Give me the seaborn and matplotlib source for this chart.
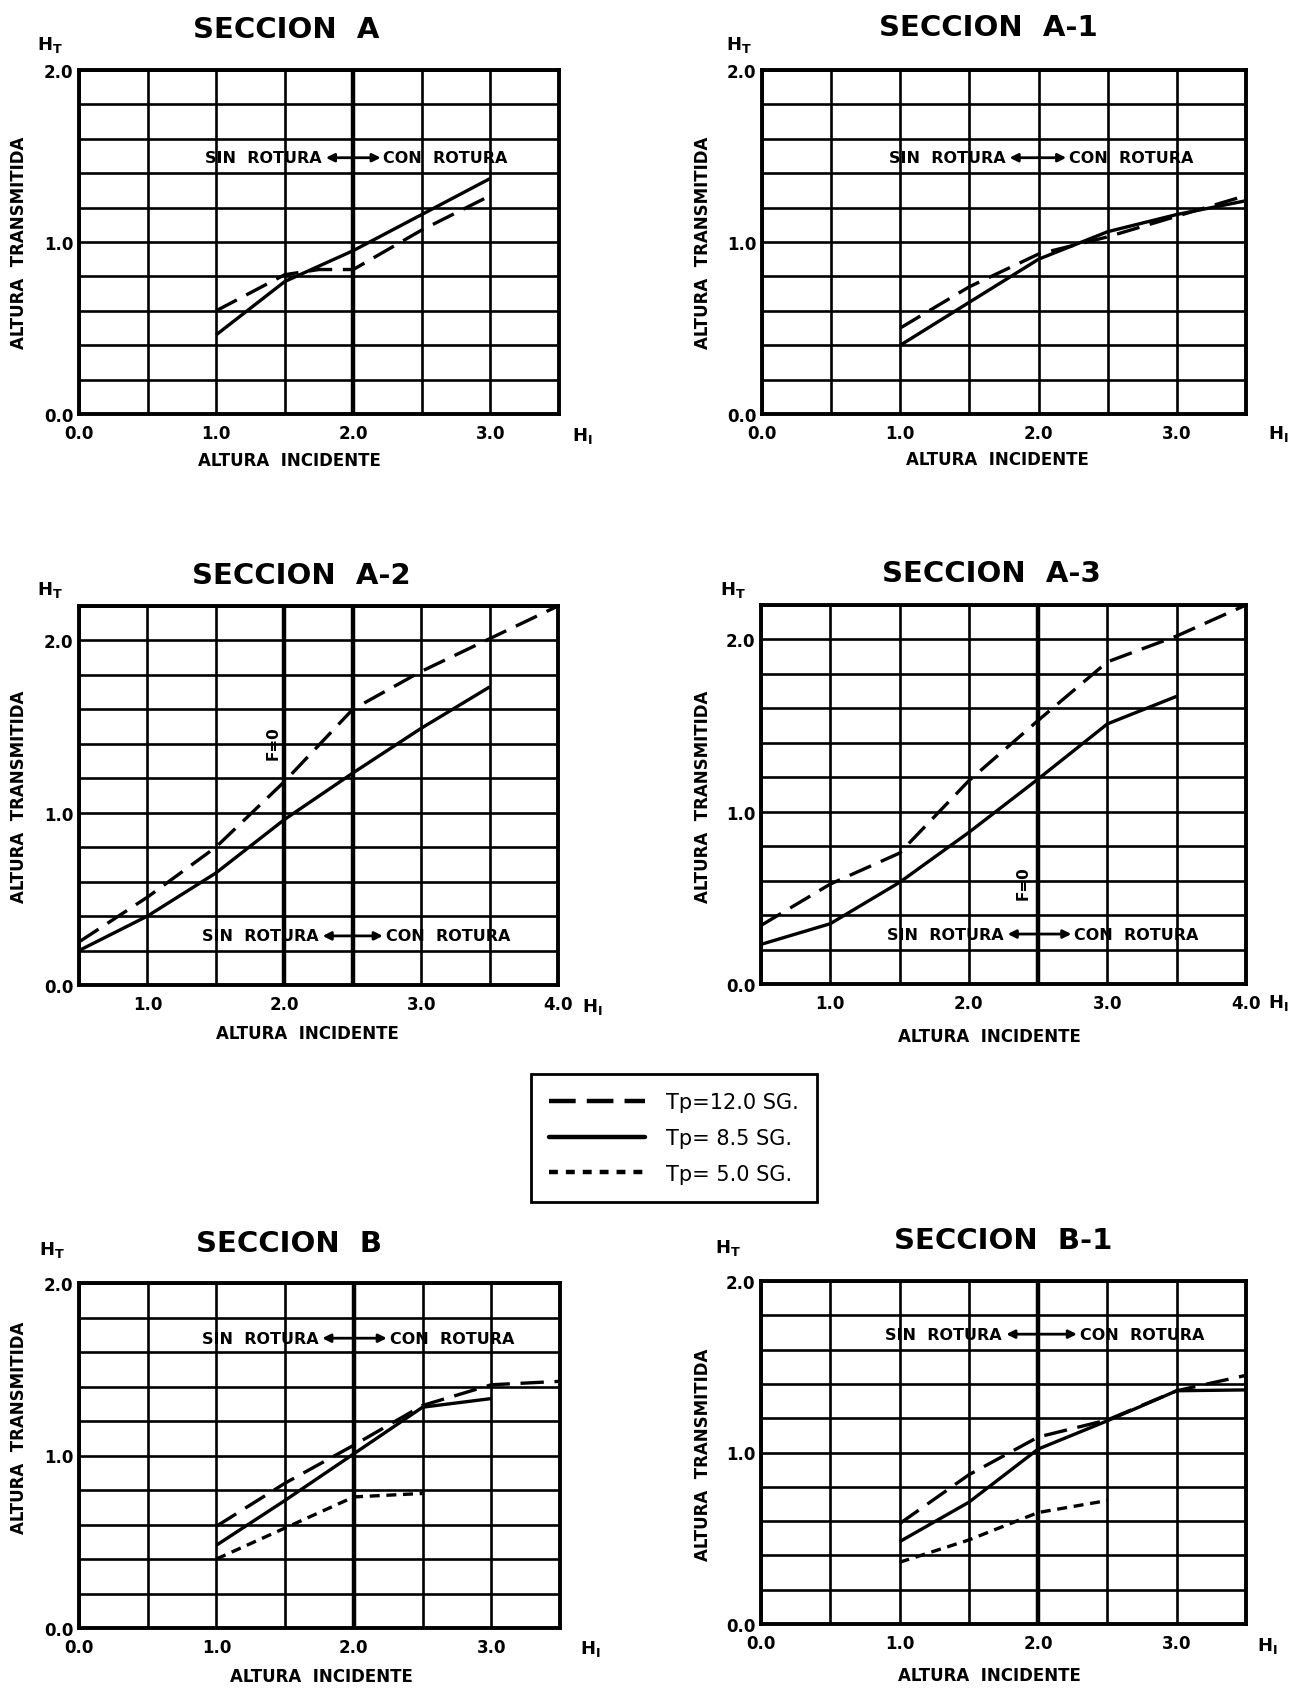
import matplotlib
matplotlib.use("Agg")
import matplotlib.pyplot as plt
from matplotlib.ticker import MultipleLocator
from matplotlib.lines import Line2D
import pandas as pd
import seaborn as sns

sns.set_theme(style="white")
plt.rcParams['font.family'] = ['DejaVu Sans']
plt.rcParams['mathtext.fontset'] = 'dejavusans'
plt.rcParams['text.color'] = 'black'
plt.rcParams['xtick.color'] = 'black'
plt.rcParams['ytick.color'] = 'black'
plt.rcParams['axes.labelcolor'] = 'black'

W, H = 1294, 1690

# ---------------- data ----------------
tp_labels = ["Tp=12.0 SG.", "Tp= 8.5 SG.", "Tp= 5.0 SG."]

a_x12 = [1.0, 1.5, 1.75, 2.0, 2.5, 3.0]
a_y12 = [0.60, 0.81, 0.84, 0.84, 1.07, 1.27]
a_x85 = [1.0, 1.5, 2.0, 2.5, 3.0]
a_y85 = [0.46, 0.77, 0.95, 1.16, 1.37]

a1_x12 = [1.0, 1.5, 2.0, 2.5, 3.0, 3.5]
a1_y12 = [0.50, 0.74, 0.93, 1.03, 1.15, 1.27]
a1_x85 = [1.0, 1.5, 2.0, 2.5, 3.0, 3.5]
a1_y85 = [0.40, 0.65, 0.90, 1.06, 1.16, 1.24]

a2_x12 = [0.5, 1.0, 1.5, 2.0, 2.5, 3.0, 3.5, 4.0]
a2_y12 = [0.25, 0.51, 0.80, 1.18, 1.60, 1.82, 2.01, 2.20]
a2_x85 = [0.5, 1.0, 1.5, 2.0, 2.5, 3.0, 3.5]
a2_y85 = [0.20, 0.40, 0.65, 0.96, 1.23, 1.49, 1.73]

a3_x12 = [0.5, 1.0, 1.5, 2.0, 2.5, 3.0, 3.5, 4.0]
a3_y12 = [0.34, 0.58, 0.76, 1.18, 1.53, 1.87, 2.02, 2.20]
a3_x85 = [0.5, 1.0, 1.5, 2.0, 2.5, 3.0, 3.5]
a3_y85 = [0.23, 0.35, 0.59, 0.88, 1.19, 1.51, 1.67]

b_x12 = [1.0, 1.5, 2.0, 2.5, 3.0, 3.5]
b_y12 = [0.59, 0.84, 1.06, 1.29, 1.41, 1.43]
b_x85 = [1.0, 1.5, 2.0, 2.5, 3.0]
b_y85 = [0.48, 0.74, 1.01, 1.28, 1.33]
b_x5 = [1.0, 1.5, 2.0, 2.5]
b_y5 = [0.40, 0.58, 0.76, 0.78]

b1_x12 = [1.0, 1.5, 2.0, 2.5, 3.0, 3.5]
b1_y12 = [0.585, 0.87, 1.09, 1.19, 1.36, 1.45]
b1_x85 = [1.0, 1.5, 2.0, 2.5, 3.0, 3.5]
b1_y85 = [0.48, 0.71, 1.02, 1.185, 1.36, 1.365]
b1_x5 = [1.0, 1.5, 2.0, 2.5]
b1_y5 = [0.36, 0.49, 0.65, 0.72]

titles = ["SECCION  A", "SECCION  A-1", "SECCION  A-2", "SECCION  A-3",
          "SECCION  B", "SECCION  B-1"]
ylabel_text = "ALTURA  TRANSMITIDA"
xlabel_text = "ALTURA  INCIDENTE"
sin_text = "SIN  ROTURA"
con_text = "CON  ROTURA"
x_ticks_std = [0.0, 1.0, 2.0, 3.0]
x_ticks_ext = [1.0, 2.0, 3.0, 4.0]
y_ticks = [0.0, 1.0, 2.0]

# ---------------- styles ----------------
dash_map = {tp_labels[0]: (7, 3.2), tp_labels[1]: "", tp_labels[2]: (3, 2)}
LW = 2.4

panels = [
    dict(box=(79, 71, 559, 415), xlim=(0, 3.5), ylim=(0, 2.0), xt=x_ticks_std,
         series=[(tp_labels[0], a_x12, a_y12), (tp_labels[1], a_x85, a_y85)],
         title=(286, 30), ht=(50, 45), hi=(582, 436), yl=(19, 243), xl=(289, 461),
         rot=dict(y=1.49, x0=1.77, xb=2.0, x1=2.20), thick=[2.0], f0=None),
    dict(box=(762, 71, 1246, 415), xlim=(0, 3.5), ylim=(0, 2.0), xt=x_ticks_std,
         series=[(tp_labels[0], a1_x12, a1_y12), (tp_labels[1], a1_x85, a1_y85)],
         title=(988, 28), ht=(739, 45), hi=(1278, 434), yl=(703, 243), xl=(997, 460),
         rot=dict(y=1.49, x0=1.76, xb=2.0, x1=2.20), thick=[], f0=None),
    dict(box=(79, 607, 558, 986), xlim=(0.5, 4.0), ylim=(0, 2.2), xt=x_ticks_ext,
         series=[(tp_labels[0], a2_x12, a2_y12), (tp_labels[1], a2_x85, a2_y85)],
         title=(301, 576), ht=(50, 590), hi=(592, 1007), yl=(19, 797), xl=(307, 1034),
         rot=dict(y=0.285, x0=2.25, xb=2.5, x1=2.72), thick=[2.0, 2.5],
         f0=(1.92, 1.41)),
    dict(box=(761, 606, 1246, 985), xlim=(0.5, 4.0), ylim=(0, 2.2), xt=x_ticks_ext,
         series=[(tp_labels[0], a3_x12, a3_y12), (tp_labels[1], a3_x85, a3_y85)],
         title=(991, 574), ht=(733, 590), hi=(1278, 1003), yl=(703, 797), xl=(989, 1037),
         rot=dict(y=0.29, x0=2.25, xb=2.5, x1=2.74), thick=[2.5],
         f0=(2.39, 0.59)),
    dict(box=(79, 1284, 560, 1629), xlim=(0, 3.5), ylim=(0, 2.0), xt=x_ticks_std,
         series=[(tp_labels[0], b_x12, b_y12), (tp_labels[1], b_x85, b_y85),
                 (tp_labels[2], b_x5, b_y5)],
         title=(289, 1244), ht=(52, 1250), hi=(590, 1649), yl=(19, 1428), xl=(321, 1677),
         rot=dict(y=1.68, x0=1.74, xb=2.0, x1=2.24), thick=[2.0], f0=None),
    dict(box=(761, 1282, 1246, 1625), xlim=(0, 3.5), ylim=(0, 2.0), xt=x_ticks_std,
         series=[(tp_labels[0], b1_x12, b1_y12), (tp_labels[1], b1_x85, b1_y85),
                 (tp_labels[2], b1_x5, b1_y5)],
         title=(1003, 1241), ht=(728, 1248), hi=(1267, 1646), yl=(703, 1455), xl=(989, 1676),
         rot=dict(y=1.69, x0=1.74, xb=2.0, x1=2.28), thick=[2.0], f0=None),
]

fig = plt.figure(figsize=(W / 100, H / 100), dpi=100)
fig.patch.set_facecolor("white")


def fx(x):
    return x / W


def fy(y):
    return 1 - y / H


for p, title in zip(panels, titles):
    l, t, r, b = p["box"]
    ax = fig.add_axes([fx(l), fy(b), (r - l) / W, (b - t) / H])
    ax.set_facecolor("white")

    rows = []
    for lab, xs, ys in p["series"]:
        for xv, yv in zip(xs, ys):
            rows.append({"H_I": xv, "H_T": yv, "Tp": lab})
    df = pd.DataFrame(rows)
    present = [s[0] for s in p["series"]]
    sns.lineplot(data=df, x="H_I", y="H_T", style="Tp", style_order=present,
                 dashes={k: dash_map[k] for k in present}, color="black",
                 linewidth=LW, estimator=None, sort=False, legend=False, ax=ax,
                 zorder=5)
    for ln in ax.lines:
        ln.set_clip_on(False)
        ln.set_solid_capstyle("butt")
        ln.set_dash_capstyle("butt")

    ax.set_xlim(*p["xlim"])
    ax.set_ylim(*p["ylim"])
    ax.set_xticks(p["xt"])
    ax.set_xticklabels([f"{v:.1f}" for v in p["xt"]], fontsize=12, fontweight="bold")
    ax.set_yticks(y_ticks)
    ax.set_yticklabels([f"{v:.1f}" for v in y_ticks], fontsize=12, fontweight="bold")
    ax.xaxis.set_minor_locator(MultipleLocator(0.5))
    ax.yaxis.set_minor_locator(MultipleLocator(0.2))
    ax.tick_params(which="both", length=0, colors="black")
    ax.tick_params(axis="x", pad=7)
    ax.tick_params(axis="y", pad=4)
    ax.set_axisbelow(True)
    ax.grid(True, which="both", color="black", linewidth=1.9)
    for v in p["thick"]:
        ax.axvline(v, color="black", linewidth=3.2, zorder=2)
    for s in ax.spines.values():
        s.set_visible(True)
        s.set_color("black")
        s.set_linewidth(2.8)
    ax.set_xlabel("")
    ax.set_ylabel("")

    # rotura annotation
    rt = p["rot"]
    ax.text(rt["x0"], rt["y"], sin_text, ha="right", va="center", fontsize=11.5,
            fontweight="bold", color="black", zorder=6)
    ax.text(rt["x1"] + 0.02, rt["y"], con_text, ha="left", va="center", fontsize=11.5,
            fontweight="bold", color="black", zorder=6)
    ax.annotate("", xy=(rt["x0"] + 0.03, rt["y"]), xytext=(rt["xb"], rt["y"]),
                arrowprops=dict(arrowstyle="-|>", color="black", lw=2.0,
                                mutation_scale=12, shrinkA=0, shrinkB=0), zorder=6)
    ax.annotate("", xy=(rt["x1"], rt["y"]), xytext=(rt["xb"], rt["y"]),
                arrowprops=dict(arrowstyle="-|>", color="black", lw=2.0,
                                mutation_scale=12, shrinkA=0, shrinkB=0), zorder=6)
    if p["f0"] is not None:
        ax.text(p["f0"][0], p["f0"][1], "F=0", rotation=90, ha="center", va="center",
                fontsize=11, fontweight="bold", color="black", zorder=6)

    # figure-level texts
    fig.text(fx(p["title"][0]), fy(p["title"][1]), title, ha="center", va="center",
             fontsize=21, fontweight="bold", color="black")
    fig.text(fx(p["ht"][0]), fy(p["ht"][1]), r"$\mathbf{H}_{\mathbf{T}}$",
             ha="center", va="center", fontsize=13, color="black")
    fig.text(fx(p["hi"][0]), fy(p["hi"][1]), r"$\mathbf{H}_{\mathbf{I}}$",
             ha="center", va="center", fontsize=13, color="black")
    fig.text(fx(p["yl"][0]), fy(p["yl"][1]), ylabel_text, rotation=90, ha="center",
             va="center", fontsize=12, fontweight="bold", color="black")
    fig.text(fx(p["xl"][0]), fy(p["xl"][1]), xlabel_text, ha="center", va="center",
             fontsize=12, fontweight="bold", color="black")

# legend box
handles = [Line2D([], [], color="black", linewidth=3.2, dashes=(6, 2.5)),
           Line2D([], [], color="black", linewidth=3.2),
           Line2D([], [], color="black", linewidth=3.2, dashes=(2, 1.8))]
leg = fig.legend(handles, tp_labels, loc="center",
                 bbox_to_anchor=(fx(674), fy(1139)), frameon=True, fancybox=False,
                 edgecolor="black", framealpha=1.0, fontsize=15, handlelength=4.6,
                 labelspacing=0.75, borderpad=0.9, handletextpad=1.0, borderaxespad=0,
                 labelcolor="black")
leg.get_frame().set_linewidth(2.0)

fig.savefig("out.png", dpi=100, facecolor="white")
